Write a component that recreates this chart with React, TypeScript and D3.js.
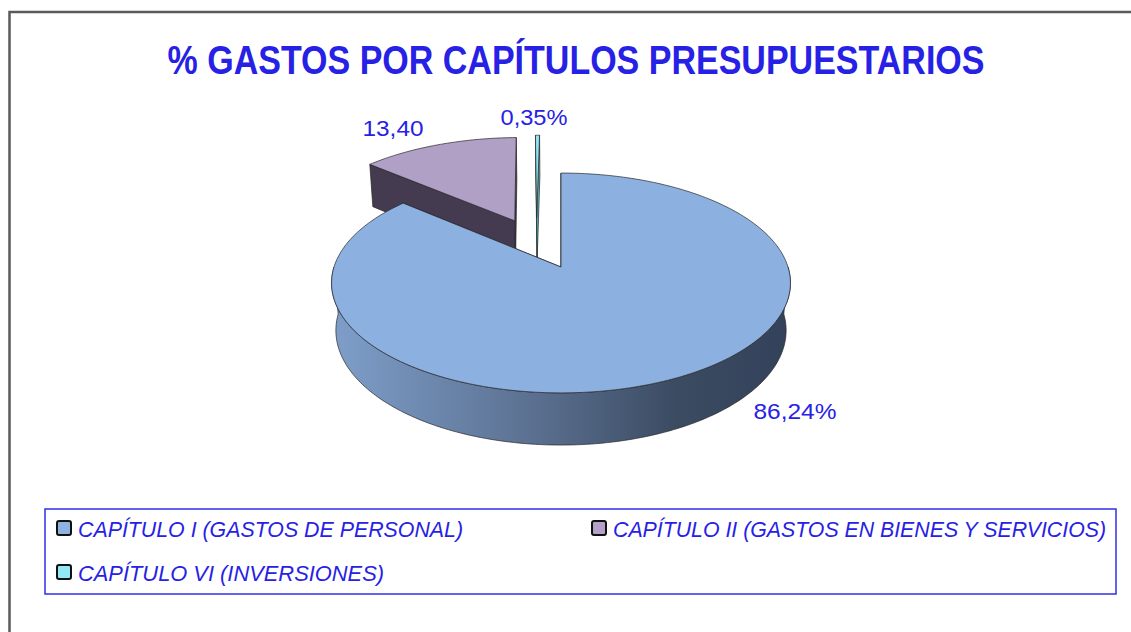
import React from "react";
import * as d3 from "d3";

// data
const categories = [
  "CAPÍTULO I (GASTOS DE PERSONAL)",
  "CAPÍTULO II (GASTOS EN BIENES Y SERVICIOS)",
  "CAPÍTULO VI (INVERSIONES)",
];
const values = [86.24, 13.4, 0.35];
const valueLabels = ["86,24%", "13,40", "0,35%"];

const topColors = ["#8cb1e1", "#b0a0c6", "#93e4f2"];
const faceColors = ["#3a4a61", "#443b50", "#56b8c8"];
const legendColors = ["#8db3e2", "#b3a2c7", "#93e8f6"];

const W = 1131;
const H = 632;
const BLUE = "#2721e6";
const FONT = "'Liberation Sans Narrow', 'Liberation Sans', Arial, sans-serif";

// fake 3d camera
const cx = 561, cy = 267, k = 227;
const sinT = 0.474, cosT = 0.88, dist = 6.06, depth = 0.24;

// how far each slice is pulled out (radius units) and in which direction (deg, null = mid angle)
const explodeDist = [0, 0.507, 0.503];
const explodeDir: (number | null)[] = [null, null, 346.8];

function project(x: number, z: number, y: number): [number, number] {
  const dc = z * cosT + y * sinT;
  const s = dist / (dist - dc);
  return [cx + k * x * s, cy + k * (z * sinT - y * cosT) * s];
}

// label / legend layout
const labelPos = [
  { x: 795, y: 419, len: 83 },
  { x: 393, y: 136, len: 61 },
  { x: 534, y: 125, len: 67 },
];
const legendItems = [
  { x: 57, y: 521, len: 385 },
  { x: 592, y: 521, len: 493 },
  { x: 57, y: 565, len: 306 },
];

const line = d3.line<[number, number]>().x((d) => d[0]).y((d) => d[1]);

function sampleAngles(a0: number, a1: number) {
  const n = Math.max(2, Math.ceil((a1 - a0) / 0.02));
  return d3.range(n + 1).map((j) => a0 + ((a1 - a0) * j) / n);
}

export default function App() {
  const arcs = d3
    .pie<number>()
    .sort(null)
    .startAngle(0)
    .endAngle(2 * Math.PI)(values);

  const slices = arcs.map((a, i) => {
    const mid = (a.startAngle + a.endAngle) / 2;
    const dir = explodeDir[i] == null ? mid : ((explodeDir[i] as number) * Math.PI) / 180;
    const ox = explodeDist[i] * Math.sin(dir);
    const oz = -explodeDist[i] * Math.cos(dir);
    const rim = (ang: number, y: number) =>
      project(ox + Math.sin(ang), oz - Math.cos(ang), y);
    const apex = (y: number) => project(ox, oz, y);
    const angs = sampleAngles(a.startAngle, a.endAngle);

    const top = line([apex(0), ...angs.map((g) => rim(g, 0))]) + "Z";

    const face = (ang: number) =>
      line([apex(0), rim(ang, 0), rim(ang, -depth), apex(-depth)]) + "Z";

    // only the part of the outer wall that faces the viewer
    const w0 = Math.max(a.startAngle, Math.PI / 2);
    const w1 = Math.min(a.endAngle, (3 * Math.PI) / 2);
    let wall: string | null = null;
    if (w1 > w0) {
      const wa = sampleAngles(w0, w1);
      wall =
        line([
          ...wa.map((g) => rim(g, 0)),
          ...wa.slice().reverse().map((g) => rim(g, -depth)),
        ]) + "Z";
    }
    return { i, top, faces: [face(a.startAngle), face(a.endAngle)], wall };
  });

  // back slices first, the big one last
  const order = [1, 2, 0];

  return (
    <svg
      width={W}
      height={H}
      style={{ position: "absolute", left: 0, top: 0, background: "#fff" }}
    >
      <defs>
        <linearGradient id="wallGrad" gradientUnits="userSpaceOnUse" x1={334} x2={789} y1={0} y2={0}>
          <stop offset="0" stopColor="#7e9ec9" />
          <stop offset="0.45" stopColor="#5a6f8f" />
          <stop offset="0.75" stopColor="#3b4b62" />
          <stop offset="1" stopColor="#33425a" />
        </linearGradient>
      </defs>

      <rect x={9.5} y={12} width={1200} height={700} fill="none" stroke="#5a5a5a" strokeWidth={2.5} />

      <text
        x={576}
        y={74}
        textAnchor="middle"
        fontFamily={FONT}
        fontWeight="bold"
        fontSize={41}
        fill={BLUE}
        textLength={817}
        lengthAdjust="spacingAndGlyphs"
      >
        % GASTOS POR CAPÍTULOS PRESUPUESTARIOS
      </text>

      <g stroke="#262626" strokeWidth={0.7} strokeLinejoin="round">
        {order.map((idx) => {
          const s = slices[idx];
          return (
            <g key={idx}>
              {s.faces.map((f, j) => (
                <path key={j} d={f} fill={faceColors[idx]} />
              ))}
              {s.wall && (
                <path d={s.wall} fill={idx === 0 ? "url(#wallGrad)" : faceColors[idx]} />
              )}
              <path d={s.top} fill={topColors[idx]} />
            </g>
          );
        })}
      </g>

      {valueLabels.map((t, i) => (
        <text
          key={t}
          x={labelPos[i].x}
          y={labelPos[i].y}
          textAnchor="middle"
          fontFamily={FONT}
          fontSize={22}
          fill={BLUE}
          textLength={labelPos[i].len}
          lengthAdjust="spacingAndGlyphs"
        >
          {t}
        </text>
      ))}

      <rect x={45} y={509} width={1071} height={85} fill="none" stroke="#2f2fe8" strokeWidth={1.5} />
      {categories.map((c, i) => {
        const it = legendItems[i];
        return (
          <g key={c} transform={`translate(${it.x},${it.y})`}>
            <rect x={0} y={0} width={14} height={14} rx={2} fill={legendColors[i]} stroke="#111" strokeWidth={2} />
            <text
              x={21}
              y={16}
              fontFamily={FONT}
              fontStyle="italic"
              fontSize={22}
              fill={BLUE}
              textLength={it.len}
              lengthAdjust="spacingAndGlyphs"
            >
              {c}
            </text>
          </g>
        );
      })}
    </svg>
  );
}
